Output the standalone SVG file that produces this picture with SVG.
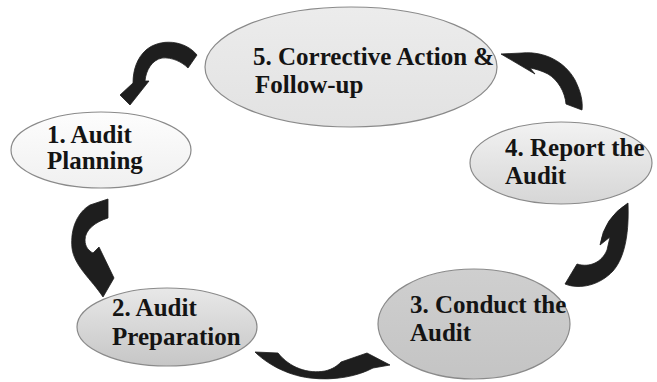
<svg xmlns="http://www.w3.org/2000/svg" width="657" height="382" viewBox="0 0 657 382">
<style>
.node ellipse{stroke:#8a8a8a;stroke-width:1.2}
.node text{font-weight:bold;font-size:25px;fill:#141414}
.arrow{fill:#1e1e1e;stroke:#1e1e1e;stroke-width:0.8;stroke-linejoin:round}
</style>
<defs>
<linearGradient id="g1" x1="0" y1="0" x2="0" y2="1"><stop offset="0" stop-color="#fdfdfd"/><stop offset="1" stop-color="#f0f0f0"/></linearGradient>
<linearGradient id="g2" x1="0" y1="0" x2="0" y2="1"><stop offset="0" stop-color="#e8e8e8"/><stop offset="1" stop-color="#c6c6c6"/></linearGradient>
<linearGradient id="g3" x1="0" y1="0" x2="0" y2="1"><stop offset="0" stop-color="#cfcfcf"/><stop offset="1" stop-color="#c4c4c4"/></linearGradient>
<linearGradient id="g4" x1="0" y1="0" x2="0" y2="1"><stop offset="0" stop-color="#f2f2f2"/><stop offset="1" stop-color="#d6d6d6"/></linearGradient>
<linearGradient id="g5" x1="0" y1="0" x2="0" y2="1"><stop offset="0" stop-color="#ececec"/><stop offset="1" stop-color="#e2e2e2"/></linearGradient>
</defs>
<g id="connectors">
<path class="arrow" d="M 197,55 C 185,40 160,38 146,50 C 137,58 133,70 133,83 L 120,95 L 130,105 L 149,81 L 145,81 C 146,70 152,60 162,58 C 172,57 182,62 188,68 Z"/>
<path class="arrow" d="M 90,205 L 108,199 L 108,218 C 95,222 85,230 85,240 C 85,247 89,251 93,253 L 99,247 L 114,278 L 103,297 C 92,280 74,266 72,248 C 70,228 78,212 90,205 Z"/>
<path class="arrow" d="M 255,352 L 278,353 C 290,368 308,374 325,371 C 333,369 337,366 341,362 L 367,353 L 390,365 L 373,368 C 358,376 335,381 310,378 C 285,375 265,362 255,352 Z"/>
<path class="arrow" d="M 565,284 L 577,264 C 590,268 602,262 607,250 L 610,237 L 600,245 Q 604,218 628,203 C 629,230 626,256 613,271 C 600,285 580,290 565,284 Z"/>
<path class="arrow" d="M 501,54 L 522,53 C 545,51 565,62 575,80 C 581,92 583,102 582,110 L 566,104 C 565,92 558,80 548,74 C 542,71 536,69 530,68 L 535,74 Z"/>
</g>
<g font-family="Liberation Serif, Times New Roman, DejaVu Serif, serif">
<g id="node5" class="node">
<ellipse cx="351" cy="67" rx="146" ry="60" fill="url(#g5)"/>
<text x="253" y="65">5. Corrective Action &amp;</text>
<text x="255" y="93">Follow-up</text>
</g>
<g id="node1" class="node">
<ellipse cx="101" cy="150" rx="90" ry="38" fill="url(#g1)"/>
<text x="47" y="143">1. Audit</text>
<text x="47" y="169">Planning</text>
</g>
<g id="node2" class="node">
<ellipse cx="167" cy="327" rx="90" ry="39" fill="url(#g2)"/>
<text x="112" y="316">2. Audit</text>
<text x="112" y="345">Preparation</text>
</g>
<g id="node3" class="node">
<ellipse cx="474" cy="324" rx="96" ry="55" fill="url(#g3)"/>
<text x="410" y="313">3. Conduct the</text>
<text x="410" y="341">Audit</text>
</g>
<g id="node4" class="node">
<ellipse cx="561" cy="163" rx="91" ry="41" fill="url(#g4)"/>
<text x="505" y="156">4. Report the</text>
<text x="505" y="184">Audit</text>
</g>
</g>
</svg>
